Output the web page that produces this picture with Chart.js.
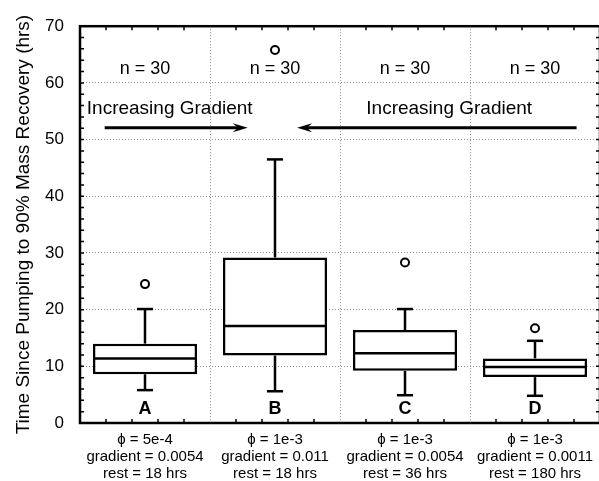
<!DOCTYPE html>
<html>
<head>
<meta charset="utf-8">
<title>Mass recovery time</title>
<script src="https://cdn.jsdelivr.net/npm/chart.js@4.4.1/dist/chart.umd.min.js"></script>
<style>
    html, body { margin: 0; padding: 0; background: #fff; overflow: hidden; }
    #wrap { width: 606px; height: 481px; }
</style>
</head>
<body>
<div id="wrap"><canvas id="recoveryChart"></canvas></div>
<script>
    // ── Data ────────────────────────────────────────────────────────────────
    const groupNames = ['A', 'B', 'C', 'D'];
    const groupLabels = [
        ['ϕ = 5e-4', 'gradient = 0.0054', 'rest = 18 hrs'],
        ['ϕ = 1e-3', 'gradient = 0.011', 'rest = 18 hrs'],
        ['ϕ = 1e-3', 'gradient = 0.0054', 'rest = 36 hrs'],
        ['ϕ = 1e-3', 'gradient = 0.0011', 'rest = 180 hrs']
    ];
    const sampleSizes  = [30, 30, 30, 30];
    const whiskerLow   = [5.8, 5.6, 4.9, 4.8];
    const quartileLow  = [8.6, 11.9, 9.2, 8.1];
    const medians      = [11.4, 17.1, 12.3, 9.9];
    const quartileHigh = [14.0, 29.2, 16.4, 11.4];
    const whiskerHigh  = [20.1, 46.5, 20.1, 14.5];
    const outliers     = [24.5, 65.8, 28.3, 16.7];

    const yMin = 0, yMax = 70, yStep = 10, yMinorStep = 2;

    const FONT = '"Liberation Sans", Arial, Helvetica, sans-serif';
    const GRID = '#8c8c8c';
    const LINE_W = 2.5;

    // ── Box-and-whisker details: whiskers, caps, medians ─────────────────────
    const boxWhiskerPlugin = {
        id: 'boxWhisker',
        afterDatasetsDraw(chart) {
            const { ctx } = chart;
            const xs = chart.scales.x, ys = chart.scales.y;
            const boxes = chart.getDatasetMeta(0).data;
            ctx.save();
            ctx.strokeStyle = '#000';
            ctx.lineWidth = LINE_W;
            boxes.forEach((bar, i) => {
                const cx = bar.x;
                const half = bar.width / 2;
                const cap = xs.getPixelForValue(i + 0.062) - cx;
                const line = (x0, y0, x1, y1) => {
                    ctx.beginPath(); ctx.moveTo(x0, y0); ctx.lineTo(x1, y1); ctx.stroke();
                };
                // median
                line(cx - half + 1, ys.getPixelForValue(medians[i]), cx + half - 1, ys.getPixelForValue(medians[i]));
                // upper whisker + cap
                line(cx, ys.getPixelForValue(quartileHigh[i]), cx, ys.getPixelForValue(whiskerHigh[i]));
                line(cx - cap, ys.getPixelForValue(whiskerHigh[i]), cx + cap, ys.getPixelForValue(whiskerHigh[i]));
                // lower whisker + cap
                line(cx, ys.getPixelForValue(quartileLow[i]), cx, ys.getPixelForValue(whiskerLow[i]));
                line(cx - cap, ys.getPixelForValue(whiskerLow[i]), cx + cap, ys.getPixelForValue(whiskerLow[i]));
            });
            ctx.restore();
        }
    };

    // ── Plot frame with inward minor ticks ──────────────────────────────────
    const framePlugin = {
        id: 'frame',
        afterDatasetsDraw(chart) {
            const { ctx, chartArea: a } = chart;
            const xs = chart.scales.x, ys = chart.scales.y;
            const len = 4;
            ctx.save();
            ctx.strokeStyle = '#000';
            ctx.lineWidth = 1.5;
            ctx.beginPath();
            for (let v = yMin + yMinorStep; v < yMax; v += yMinorStep) {
                const py = ys.getPixelForValue(v);
                ctx.moveTo(a.left, py); ctx.lineTo(a.left + len, py);
                ctx.moveTo(a.right, py); ctx.lineTo(a.right - len, py);
            }
            for (let i = 0; i < groupNames.length; i++) {
                for (let k = 1; k <= 4; k++) {
                    const px = xs.getPixelForValue(i - 0.5 + k * 0.2);
                    ctx.moveTo(px, a.bottom); ctx.lineTo(px, a.bottom - len);
                    ctx.moveTo(px, a.top); ctx.lineTo(px, a.top + len);
                }
            }
            ctx.stroke();
            ctx.lineWidth = LINE_W;
            ctx.strokeRect(a.left, a.top, a.right - a.left, a.bottom - a.top);
            ctx.restore();
        }
    };

    // ── Annotations: sample sizes, group letters, gradient arrows ───────────
    function drawArrow(ctx, x0, x1, py) {
        const dir = Math.sign(x1 - x0);
        const headLen = 15, headHalf = 4.5;
        ctx.beginPath();
        ctx.moveTo(x0, py);
        ctx.lineTo(x1 - dir * headLen * 0.6, py);
        ctx.stroke();
        ctx.beginPath();
        ctx.moveTo(x1, py);
        ctx.lineTo(x1 - dir * headLen, py - headHalf);
        ctx.lineTo(x1 - dir * headLen * 0.65, py);
        ctx.lineTo(x1 - dir * headLen, py + headHalf);
        ctx.closePath();
        ctx.fill();
    }

    const annotationPlugin = {
        id: 'annotations',
        afterDatasetsDraw(chart) {
            const { ctx } = chart;
            const xs = chart.scales.x, ys = chart.scales.y;
            ctx.save();
            ctx.fillStyle = '#000';
            ctx.strokeStyle = '#000';
            ctx.textAlign = 'center';
            ctx.textBaseline = 'middle';

            ctx.font = '18px ' + FONT;
            sampleSizes.forEach((n, i) => {
                ctx.fillText('n = ' + n, xs.getPixelForValue(i), ys.getPixelForValue(62.4));
            });

            ctx.font = 'bold 18px ' + FONT;
            groupNames.forEach((g, i) => {
                ctx.fillText(g, xs.getPixelForValue(i), ys.getPixelForValue(2.4));
            });

            ctx.font = '19px ' + FONT;
            ctx.fillText('Increasing Gradient', xs.getPixelForValue(0.19), ys.getPixelForValue(55.5));
            ctx.fillText('Increasing Gradient', xs.getPixelForValue(2.34), ys.getPixelForValue(55.5));

            ctx.lineWidth = 3;
            const ay = ys.getPixelForValue(52.1);
            drawArrow(ctx, xs.getPixelForValue(-0.31), xs.getPixelForValue(0.79), ay);
            drawArrow(ctx, xs.getPixelForValue(3.32), xs.getPixelForValue(1.17), ay);
            ctx.restore();
        }
    };

    // ── Chart ───────────────────────────────────────────────────────────────
    new Chart(document.getElementById('recoveryChart'), {
        type: 'bar',
        data: {
            labels: groupLabels,
            datasets: [{
                label: 'Interquartile range',
                data: quartileLow.map((q, i) => [q, quartileHigh[i]]),
                backgroundColor: '#ffffff',
                borderColor: '#000000',
                borderWidth: LINE_W,
                borderSkipped: false,
                barPercentage: 0.8,
                categoryPercentage: 1.0,
                order: 2
            }, {
                type: 'scatter',
                label: 'Outliers',
                data: outliers.map((v, i) => ({ x: i, y: v })),
                pointStyle: 'circle',
                pointRadius: 4,
                pointBorderWidth: 2,
                pointBackgroundColor: '#ffffff',
                pointBorderColor: '#000000',
                order: 1
            }]
        },
        options: {
            responsive: true,
            maintainAspectRatio: false,
            animation: false,
            layout: { padding: { top: 26, right: 4, left: 0, bottom: 0 } },
            plugins: {
                legend: { display: false },
                tooltip: { enabled: false }
            },
            scales: {
                x: {
                    type: 'category',
                    offset: true,
                    grid: { offset: true, color: GRID, lineWidth: 1, drawTicks: false },
                    border: { display: false, dash: [1, 2] },
                    ticks: {
                        color: '#000',
                        padding: 8,
                        maxRotation: 0,
                        autoSkip: false,
                        font: { family: FONT, size: 15, lineHeight: 1.13 }
                    },
                    afterFit: scale => { scale.height = 58; }
                },
                y: {
                    min: yMin,
                    max: yMax,
                    grid: {
                        color: c => (c.tick && c.tick.value > yMin && c.tick.value < yMax) ? GRID : 'rgba(0,0,0,0)',
                        lineWidth: 1,
                        drawTicks: false
                    },
                    border: { display: false, dash: [1, 2] },
                    ticks: {
                        stepSize: yStep,
                        color: '#000',
                        padding: 16,
                        font: { family: FONT, size: 17 }
                    },
                    title: {
                        display: true,
                        text: 'Time Since Pumping to 90% Mass Recovery (hrs)',
                        color: '#000',
                        padding: { top: 12, bottom: 0 },
                        font: { family: FONT, size: 19, lineHeight: 1.2 }
                    },
                    afterFit: scale => { scale.width = 80; }
                }
            }
        },
        plugins: [boxWhiskerPlugin, framePlugin, annotationPlugin]
    });
</script>
</body>
</html>
